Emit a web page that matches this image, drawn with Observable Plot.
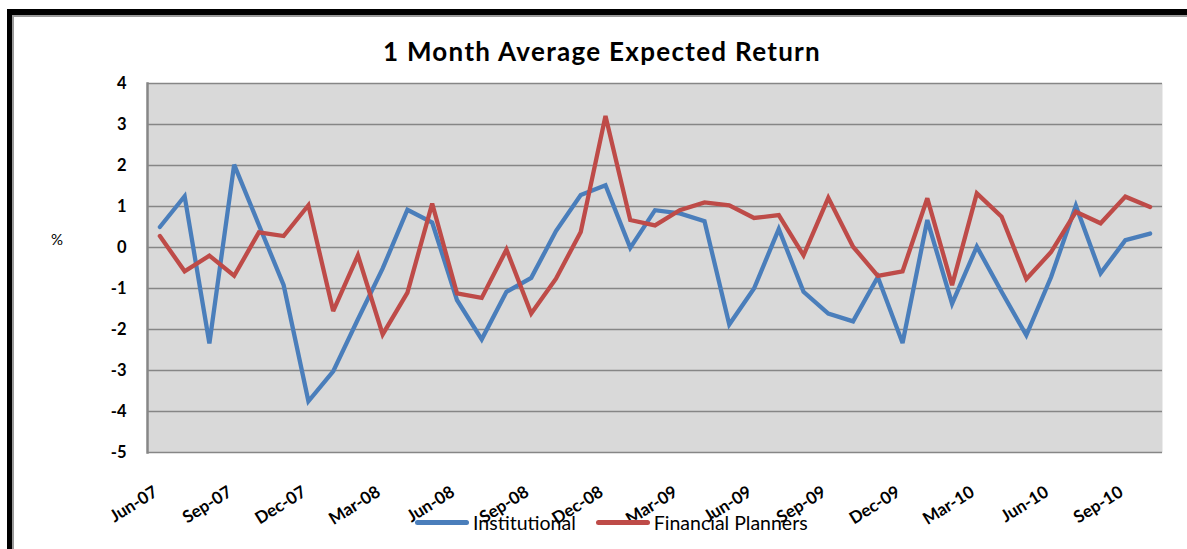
<!DOCTYPE html>
<html>
<head>
<meta charset="utf-8">
<script src="https://cdn.jsdelivr.net/npm/d3@7"></script>
<script src="https://cdn.jsdelivr.net/npm/@observablehq/plot@0.6"></script>
<style>
  html, body { margin: 0; padding: 0; background: #fff; }
  #wrap { position: relative; width: 1187px; height: 549px; overflow: hidden; font-family: Lato, "Open Sans", sans-serif; }
  #border { position: absolute; left: 7px; top: 9px; width: 1200px; height: 600px; border-top: 6px solid #000; border-left: 5px solid #000; box-shadow: inset 2px 2px 0 #9a9a9a; }
  #title { position: absolute; left: 0; width: 1204px; top: 35px; text-align: center; font-weight: bold; font-size: 26px; letter-spacing: 1.3px; color: #000; }
  #ylabel { position: absolute; left: 51px; top: 230px; font-size: 15px; color: #000; }
  #chart { position: absolute; left: 0; top: 0; }
  #legend { position: absolute; top: 511px; left: 415px; display: flex; align-items: center; font-size: 19.5px; color: #000; }
  .sw { display: inline-block; width: 54px; height: 5px; border-radius: 2.5px; margin-right: 4px; }
</style>
</head>
<body>
<div id="wrap">
  <div id="border"></div>
  <div id="title">1 Month Average Expected Return</div>
  <div id="ylabel">%</div>
  <div id="chart"></div>
  <div id="legend"></div>
</div>
<script>
const months = ["Jun-07","Jul-07","Aug-07","Sep-07","Oct-07","Nov-07","Dec-07","Jan-08","Feb-08","Mar-08","Apr-08","May-08","Jun-08","Jul-08","Aug-08","Sep-08","Oct-08","Nov-08","Dec-08","Jan-09","Feb-09","Mar-09","Apr-09","May-09","Jun-09","Jul-09","Aug-09","Sep-09","Oct-09","Nov-09","Dec-09","Jan-10","Feb-10","Mar-10","Apr-10","May-10","Jun-10","Jul-10","Aug-10","Sep-10","Oct-10"];
const institutional = [0.5,1.25,-2.34,2.02,0.55,-0.92,-3.75,-3.02,-1.75,-0.51,0.92,0.61,-1.28,-2.24,-1.08,-0.74,0.4,1.28,1.52,-0.01,0.91,0.83,0.64,-1.88,-1.0,0.45,-1.08,-1.61,-1.8,-0.72,-2.33,0.67,-1.37,0.02,-1.08,-2.14,-0.72,1.02,-0.63,0.18,0.34];
const planners = [0.28,-0.58,-0.2,-0.69,0.37,0.28,1.03,-1.55,-0.19,-2.12,-1.1,1.07,-1.12,-1.23,-0.05,-1.61,-0.76,0.38,3.21,0.67,0.54,0.91,1.1,1.03,0.72,0.79,-0.19,1.21,0.02,-0.69,-0.58,1.2,-0.92,1.32,0.75,-0.77,-0.11,0.87,0.59,1.24,0.99];
const xTickLabels = ["Jun-07","Sep-07","Dec-07","Mar-08","Jun-08","Sep-08","Dec-08","Mar-09","Jun-09","Sep-09","Dec-09","Mar-10","Jun-10","Sep-10"];
const yTicks = [-5,-4,-3,-2,-1,0,1,2,3,4];
const seriesNames = ["Institutional","Financial Planners"];
const seriesColors = ["#4a7ebb","#be4b48"];

const rows = [];
months.forEach((m, i) => {
  rows.push({month: m, series: seriesNames[0], value: institutional[i]});
});
months.forEach((m, i) => {
  rows.push({month: m, series: seriesNames[1], value: planners[i]});
});

const chart = Plot.plot({
  width: 1187,
  height: 549,
  marginLeft: 147,
  marginRight: 25,
  marginTop: 83,
  marginBottom: 97,
  style: {fontFamily: "Lato, 'Open Sans', sans-serif", background: "transparent", color: "#000"},
  x: {type: "point", domain: months, padding: 0.5, align: 0.5, label: null},
  y: {domain: [-5, 4], label: null},
  color: {domain: seriesNames, range: seriesColors},
  marks: [
    Plot.frame({fill: "#d9d9d9", stroke: null}),
    Plot.ruleY(yTicks, {stroke: "#868686", strokeWidth: 1.5}),
    Plot.frame({anchor: "left", stroke: "#868686", strokeWidth: 2.5}),
    Plot.line(rows, {x: "month", y: "value", z: "series", stroke: "series", strokeWidth: 4.3, strokeLinejoin: "miter", strokeMiterlimit: 3}),
    Plot.axisY({ticks: yTicks, tickSize: 0, tickPadding: 21, fontSize: 16.5, fontWeight: "bold", tickFormat: d => String(d), label: null}),
    Plot.axisX({ticks: xTickLabels, tickSize: 0, tickPadding: 38, tickRotate: -32, dx: -4, fontSize: 17, fontWeight: "bold", label: null})
  ]
});
document.getElementById("chart").appendChild(chart);

const legend = document.getElementById("legend");
seriesNames.forEach((name, i) => {
  const item = document.createElement("span");
  item.style.display = "inline-flex";
  item.style.alignItems = "center";
  item.style.marginRight = i === 0 ? "20px" : "0";
  const sw = document.createElement("span");
  sw.className = "sw";
  sw.style.background = seriesColors[i];
  item.appendChild(sw);
  item.appendChild(document.createTextNode(name));
  legend.appendChild(item);
});
</script>
</body>
</html>
